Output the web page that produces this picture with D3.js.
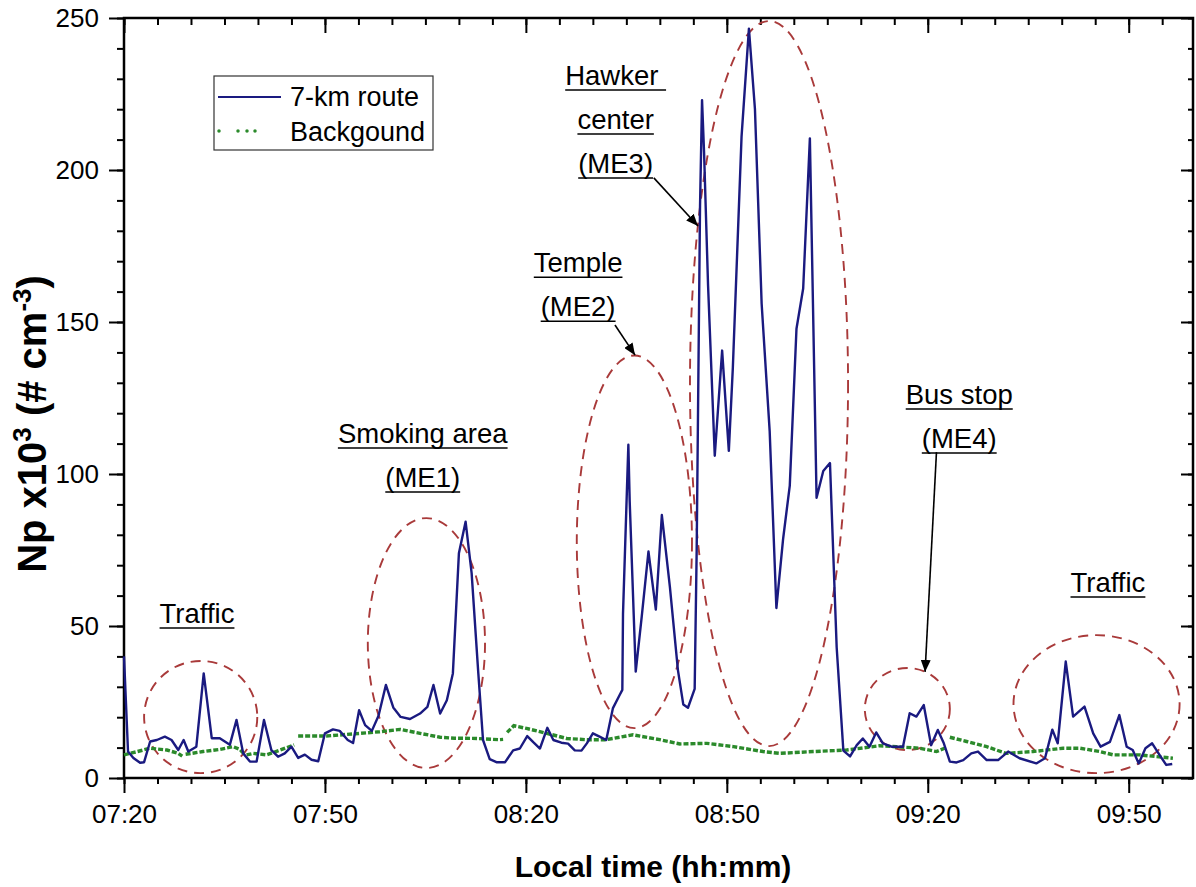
<!DOCTYPE html>
<html>
<head>
<meta charset="utf-8">
<title>Np along the 7-km route</title>
<script src="https://cdn.jsdelivr.net/npm/d3@7"></script>
<style>
  body { margin: 0; background: #fff; }
  svg { font-family: "Liberation Sans", Arial, sans-serif; }
  .tick text { font-size: 26px; fill: #000; font-family: "Liberation Sans", Arial, sans-serif; }
  .tick line { stroke: #000; stroke-width: 2; }
</style>
</head>
<body>
<svg id="chart" width="1196" height="887"></svg>
<script>
// minutes after 07:20 and Np (x10^3 #/cm3) for the 7-km route
var routeMin = [0, 0.6, 1.4, 2.4, 3.0, 3.9, 4.9, 6.1, 7.1, 8.1, 8.9, 9.6, 10.8, 11.9, 13.1, 14.3, 15.8, 16.8, 17.8, 18.8,
  19.8, 20.9, 22.0, 23.0, 24.0, 25.0, 26.0, 27.0, 28.0, 29.0, 30.0, 31.2, 32.2, 33.4, 34.2, 35.1, 36.0, 37.0, 38.0, 39.1,
  40.2, 41.3, 42.7, 44.2, 45.3, 46.2, 47.2, 48.2, 49.1, 50.0, 51.0, 51.9, 52.9, 53.6, 54.6, 55.6, 56.9, 58.1, 59.1, 60.2,
  61.1, 62.1, 63.2, 64.1, 65.3, 66.3, 67.3, 68.3, 69.1, 70.0, 71.0, 72.0, 73.0, 74.0, 74.4, 74.5, 75.3, 75.5, 76.4, 77.3,
  78.3, 79.4, 80.3, 81.5, 82.7, 83.5, 84.2, 85.2, 85.5, 86.0, 86.3, 86.6, 87.2, 88.2, 89.3, 90.3, 90.9, 92.2, 93.3, 94.2,
  95.2, 96.4, 97.4, 98.4, 99.4, 100.4, 101.4, 102.4, 103.4, 104.4, 105.4, 106.4, 107.4, 108.4, 109.4, 110.3, 111.3, 112.3, 113.3, 114.6,
  116.3, 117.3, 118.3, 119.4, 120.5, 121.5, 122.4, 123.3, 124.3, 125.3, 126.5, 127.5, 128.8, 130.5, 132.0, 133.7, 136.2, 137.5, 138.6, 139.4,
  140.6, 141.7, 143.4, 144.7, 145.8, 147.2, 148.6, 149.7, 150.6, 151.5, 152.5, 153.5, 154.6, 155.6, 156.5];
var routeNp = [40, 8.7, 6.6, 5.0, 5.2, 12.0, 12.5, 13.6, 12.5, 9.2, 12.5, 8.7, 10.3, 34.4, 13.1, 13.1, 10.9, 19.1, 8.1, 5.4,
  5.4, 19.1, 9.2, 7.0, 8.1, 10.3, 6.6, 7.7, 6.0, 5.5, 14.7, 16.0, 15.5, 12.5, 11.5, 22.3, 17.4, 15.5, 20.5, 30.6,
  23.2, 20.1, 19.4, 21.2, 23.4, 30.6, 21.2, 25.6, 34.4, 73.9, 84.3, 67.4, 34.4, 12.5, 6.2, 5.2, 5.2, 9.1, 9.7, 13.8,
  11.8, 9.7, 16.5, 12.5, 11.6, 11.3, 9.1, 9.0, 11.4, 14.7, 13.6, 12.5, 23.0, 27.3, 29.0, 54.0, 109.6, 91.0, 35.0, 53.2,
  74.5, 55.4, 86.5, 62.9, 35.5, 24.2, 23.1, 29.3, 75.0, 188.0, 223.0, 206.0, 162.0, 106.0, 140.6, 107.6, 135.0, 211.0, 246.5, 220.0,
  156.0, 114.0, 55.9, 78.6, 96.2, 147.8, 161.0, 210.4, 92.2, 101.0, 103.6, 43.0, 9.0, 7.1, 10.8, 13.0, 10.3, 15.0, 11.4, 10.3,
  10.3, 21.3, 20.2, 24.0, 10.8, 15.8, 11.4, 5.4, 5.1, 5.9, 8.1, 8.7, 5.9, 5.9, 8.7, 6.5, 4.8, 6.5, 15.9, 11.4,
  38.3, 20.2, 23.5, 14.7, 10.3, 11.9, 20.7, 10.3, 9.2, 4.8, 9.8, 11.4, 7.6, 4.3, 4.6];

// background station, null marks a gap in the record
var bgMin = [0, 2, 3.9, 6.4, 8.1, 8.7, 8.8,
  9.2, 11.8, 14.3, 16.3, 17.3, 17.9, 18.0,
  18.3, 19.3, 21.3, 23.3, 25.4, 25.7,
  26.0, 30.2, 34.2, 38.2, 41.2, 44.2, 47.2, 49.3, 52.7, 55.9, 56.6, 56.9,
  57.2, 58.2, 60.1, 63.1, 66.1, 69.1, 72.0, 76.0, 80.0, 83.0, 87.0, 91.0, 95.4, 97.9, 102.9, 107.9, 112.8, 115.3, 118.8, 121.3, 122.5, 122.9,
  123.3, 125.8, 128.8, 131.7, 135.7, 140.2, 142.7, 145.7, 147.7, 151.6, 156.6];
var bgNp = [7.6, 8.7, 9.8, 9.2, 8.1, 7.2, null,
  7.8, 8.7, 9.4, 10.3, 9.4, 8.0, null,
  7.6, 8.1, 7.6, 9.2, 10.9, null,
  13.8, 13.8, 14.5, 15.2, 16.0, 14.7, 13.4, 13.1, 13.0, 12.6, 12.7, null,
  15.0, 17.2, 16.3, 14.7, 13.0, 12.6, 12.6, 14.2, 12.6, 11.2, 11.4, 10.3, 8.7, 8.1, 8.7, 9.2, 10.6, 10.3, 9.8, 8.7, 9.8, null,
  13.4, 12.0, 10.3, 8.1, 8.7, 9.8, 9.8, 8.7, 7.6, 7.6, 6.5];

var seriesNames = ["7-km route", "Backgound"];

// events: [start min, end min, low Np, high Np] of the dashed rings
var ringBox = [[3.0, 19.9, 1.6, 38.5], [36.4, 53.9, 3.3, 85.5], [67.6, 84.8, 16.4, 139], [84.5, 108.1, 10.5, 249],
  [110.6, 123.3, 9.2, 36.2], [132.8, 157.6, 1.6, 47]];
var labelLines = [["Traffic"], ["Smoking area", "(ME1)"], ["Temple", "(ME2)"], ["Hawker\u00a0", "center", "(ME3)"],
  ["Bus stop", "(ME4)"], ["Traffic"]];
var labelAt = [[10.9, 51.0], [44.6, 110.2], [67.8, 166.4], [73.4, 228], [124.7, 123], [146.9, 61.2]];
var arrows = [[79.1, 197.4, 85.7, 181.6], [73.3, 149, 76.3, 139.1], [121.3, 107.2, 119.6, 34.9]];

var t0 = new Date(2000, 0, 1, 7, 20);
function toDate(m) { return new Date(t0.getTime() + m * 60000); }

var pl = 124, pr = 1193, pt = 18, pb = 778;

var svg = d3.select("#chart");

var x = d3.scaleTime().domain([t0, toDate(159.6)]).range([pl, pr]);
var y = d3.scaleLinear().domain([0, 250]).range([pb, pt]);

var major = d3.timeMinute.range(t0, toDate(159.6), 30);
var minor = d3.timeMinute.range(t0, toDate(159.6), 5);
var fmt = d3.timeFormat("%H:%M");

// minor ticks first
svg.append("g").attr("transform", "translate(0," + pb + ")")
  .call(d3.axisBottom(x).tickValues(minor).tickSize(6).tickFormat(""));
svg.append("g").attr("transform", "translate(0," + pb + ")")
  .call(d3.axisBottom(x).tickValues(major).tickSize(15).tickPadding(12).tickFormat(fmt));
svg.append("g").attr("transform", "translate(0," + pt + ")")
  .call(d3.axisBottom(x).tickValues(minor).tickSize(7).tickFormat(""));
svg.append("g").attr("transform", "translate(0," + pt + ")")
  .call(d3.axisBottom(x).tickValues(major).tickSize(15).tickFormat(""));

svg.append("g").attr("transform", "translate(" + pl + ",0)")
  .call(d3.axisLeft(y).tickValues(d3.range(0, 251, 10)).tickSize(7).tickFormat(""));
svg.append("g").attr("transform", "translate(" + pl + ",0)")
  .call(d3.axisLeft(y).tickValues(d3.range(0, 251, 50)).tickSize(15).tickPadding(10));
svg.append("g").attr("transform", "translate(" + pr + ",0)")
  .call(d3.axisLeft(y).tickValues(d3.range(0, 251, 10)).tickSize(5).tickFormat(""));
svg.append("g").attr("transform", "translate(" + pr + ",0)")
  .call(d3.axisLeft(y).tickValues(d3.range(0, 251, 50)).tickSize(12).tickFormat(""));

svg.selectAll(".domain").remove();

// frame
svg.append("rect")
  .attr("x", pl).attr("y", pt)
  .attr("width", pr - pl).attr("height", pb - pt)
  .attr("fill", "none").attr("stroke", "#000").attr("stroke-width", 2.5);

// dashed rings
svg.append("g").selectAll("ellipse")
  .data(ringBox)
  .enter().append("ellipse")
  .attr("cx", function(d) { return (x(toDate(d[0])) + x(toDate(d[1]))) / 2; })
  .attr("cy", function(d) { return (y(d[2]) + y(d[3])) / 2; })
  .attr("rx", function(d) { return (x(toDate(d[1])) - x(toDate(d[0]))) / 2; })
  .attr("ry", function(d) { return (y(d[2]) - y(d[3])) / 2; })
  .attr("fill", "none")
  .attr("stroke", "#a93a3a")
  .attr("stroke-width", 1.9)
  .attr("stroke-dasharray", "10 7");

var bgData = bgMin.map(function(m, i) { return { t: toDate(m), v: bgNp[i] }; });
var routeData = routeMin.map(function(m, i) { return { t: toDate(m), v: routeNp[i] }; });

var line = d3.line()
  .defined(function(d) { return d.v != null; })
  .x(function(d) { return x(d.t); })
  .y(function(d) { return y(d.v); });

svg.append("path")
  .datum(bgData)
  .attr("d", line)
  .attr("fill", "none")
  .attr("stroke", "#2b8a2b")
  .attr("stroke-width", 3.4)
  .attr("stroke-dasharray", "5 2");

svg.append("path")
  .datum(routeData)
  .attr("d", line)
  .attr("fill", "none")
  .attr("stroke", "#1a1a80")
  .attr("stroke-width", 2.4)
  .attr("stroke-linejoin", "round");

// arrows
svg.append("defs").append("marker")
  .attr("id", "head")
  .attr("viewBox", "0 0 12 10")
  .attr("refX", 12).attr("refY", 5)
  .attr("markerWidth", 12).attr("markerHeight", 10)
  .attr("markerUnits", "userSpaceOnUse")
  .attr("orient", "auto")
  .append("path").attr("d", "M0,0L12,5L0,10Z").attr("fill", "#000");

svg.append("g").selectAll("line")
  .data(arrows)
  .enter().append("line")
  .attr("x1", function(d) { return x(toDate(d[0])); })
  .attr("y1", function(d) { return y(d[1]); })
  .attr("x2", function(d) { return x(toDate(d[2])); })
  .attr("y2", function(d) { return y(d[3]); })
  .attr("stroke", "#000")
  .attr("stroke-width", 1.6)
  .attr("marker-end", "url(#head)");

// underlined event labels
var lab = svg.append("g");
labelLines.forEach(function(lines, i) {
  var cx = x(toDate(labelAt[i][0])), by = y(labelAt[i][1]);
  lines.forEach(function(s, j) {
    var t = lab.append("text")
      .attr("x", cx).attr("y", by + j * 44)
      .attr("text-anchor", "middle")
      .attr("font-size", 27.5)
      .attr("xml:space", "preserve")
      .text(s);
    var w = t.node().getComputedTextLength();
    lab.append("line")
      .attr("x1", cx - w / 2).attr("x2", cx + w / 2)
      .attr("y1", by + j * 44 + 5).attr("y2", by + j * 44 + 5)
      .attr("stroke", "#000").attr("stroke-width", 1.5);
  });
});

// legend
var lg = svg.append("g");
lg.append("rect").attr("x", 214).attr("y", 76).attr("width", 219).attr("height", 74)
  .attr("fill", "#fff").attr("stroke", "#333").attr("stroke-width", 1.2);
lg.append("line").attr("x1", 218).attr("x2", 281).attr("y1", 97).attr("y2", 97)
  .attr("stroke", "#1a1a80").attr("stroke-width", 2);
lg.append("line").attr("x1", 219).attr("x2", 264).attr("y1", 131).attr("y2", 131)
  .attr("stroke", "#2b8a2b").attr("stroke-width", 3.5)
  .attr("stroke-linecap", "round").attr("stroke-dasharray", "0 19 0 9 0 8 0 9");
lg.selectAll("text").data(seriesNames).enter().append("text")
  .attr("x", 290).attr("y", function(d, i) { return 106 + i * 35; })
  .attr("font-size", 27).text(function(d) { return d; });

// axis titles
svg.append("text")
  .attr("x", 653).attr("y", 877)
  .attr("text-anchor", "middle")
  .attr("font-weight", "bold").attr("font-size", 30)
  .text("Local time (hh:mm)");

var yt = svg.append("text")
  .attr("transform", "translate(46,424) rotate(-90)")
  .attr("text-anchor", "middle")
  .attr("font-weight", "bold").attr("font-size", 40);
yt.append("tspan").text("Np x10");
yt.append("tspan").attr("dy", -15).attr("font-size", 26).text("3");
yt.append("tspan").attr("dy", 15).text(" (# cm");
yt.append("tspan").attr("dy", -15).attr("font-size", 26).text("-3");
yt.append("tspan").attr("dy", 15).text(")");
</script>
</body>
</html>
